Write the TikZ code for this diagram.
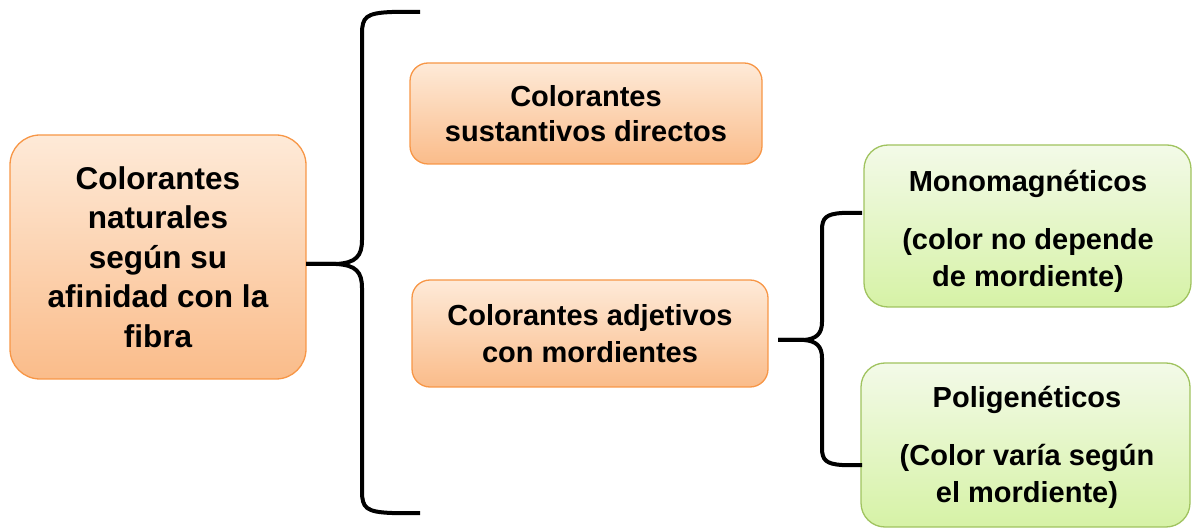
\documentclass[tikz,border=0pt]{standalone}
\usepackage{fontspec}
\setmainfont{Liberation Sans}
\definecolor{otop}{RGB}{254,234,216}
\definecolor{obot}{RGB}{250,188,138}
\definecolor{oborder}{RGB}{247,150,70}
\definecolor{gtop}{RGB}{243,250,232}
\definecolor{gbot}{RGB}{214,242,166}
\definecolor{gborder}{RGB}{160,195,95}
\tikzset{
  box/.style={rectangle, line width=1.3pt, align=center, inner sep=0pt},
  obox/.style={box, draw=oborder, top color=otop, bottom color=obot},
  gbox/.style={box, draw=gborder, top color=gtop, bottom color=gbot},
  gtext/.style={align=center, inner sep=0pt, font=\fontsize{29}{37}\selectfont\bfseries},
  brace/.style={draw=black, line width=4pt, line cap=butt, line join=round}
}
\begin{document}
\begin{tikzpicture}[x=1pt,y=-1pt]
\useasboundingbox (0,0) rectangle (1192,529);

\node[obox, rounded corners=30pt, minimum width=296pt, minimum height=244pt,
      font=\fontsize{31.5}{39.5}\selectfont\bfseries] (L) at (158,257)
  {Colorantes\\naturales\\según su\\afinidad con la\\fibra};

\node[obox, rounded corners=18pt, minimum width=352pt, minimum height=101pt,
      font=\fontsize{29}{35}\selectfont\bfseries] (T) at (586,113.5)
  {Colorantes\\sustantivos directos};

\node[obox, rounded corners=18pt, minimum width=356pt, minimum height=107pt,
      font=\fontsize{29}{37}\selectfont\bfseries] (M) at (590,333.5)
  {Colorantes adjetivos\\con mordientes};

\node[gbox, rounded corners=24pt, minimum width=327pt, minimum height=162pt] (G1) at (1027.5,226) {};
\node[gtext] (G1t) at (1028,231)
  {Monomagnéticos\\[21pt](color no depende\\de mordiente)};

\node[gbox, rounded corners=24pt, minimum width=329pt, minimum height=164pt] (G2) at (1025.5,445) {};
\node[gtext] (G2t) at (1027,447)
  {Poligenéticos\\[21pt](Color varía según\\el mordiente)};

% big brace
\coordinate (bt) at (420,12);
\coordinate (bb) at (420,513);
\coordinate (bc) at (306,264);
\draw[brace] (bt) -- (392,12) .. controls (366,13) and (362,17) .. (362,34)
  -- (362,240) .. controls (362,256) and (356,263) .. (336,264) -- (bc);
\draw[brace] (bb) -- (392,513) .. controls (366,512) and (362,508) .. (362,491)
  -- (362,288) .. controls (362,272) and (356,265) .. (336,264) -- (bc);

% small brace
\coordinate (st) at (862,213);
\coordinate (sb) at (862,465);
\coordinate (sc) at (778,340);
\draw[brace] (st) -- (842,213) .. controls (826,214) and (822,218) .. (822,230)
  -- (822,322) .. controls (822,334) and (816,339) .. (804,340) -- (sc);
\draw[brace] (sb) -- (842,465) .. controls (826,464) and (822,460) .. (822,448)
  -- (822,358) .. controls (822,346) and (816,341) .. (804,340) -- (sc);
\end{tikzpicture}
\end{document}
